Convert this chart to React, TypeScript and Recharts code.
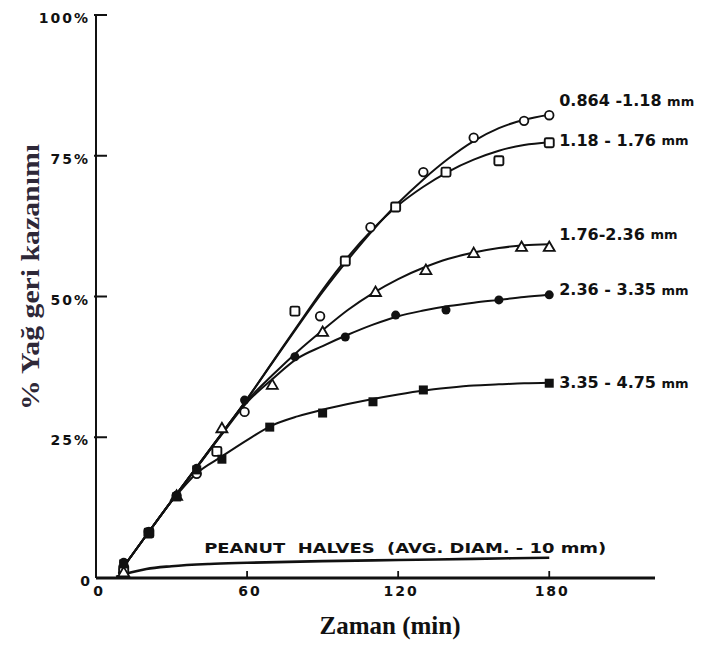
import React from "react";
import { ComposedChart, Line, Scatter, XAxis, YAxis, Label } from "recharts";

const xTicks = [0, 60, 120, 180];
const yTicks = [0, 25, 50, 75, 100];
const yTickText: Record<number, string> = { 0: "0", 25: "25%", 50: "50%", 75: "75%", 100: "100%" };

// fitted curves
const curveTimes = [9, 20, 30, 40, 50, 60, 70, 80, 90, 100, 110, 120, 130, 140, 150, 160, 170, 180];
const curveFine = [0.8, 7.6, 13.7, 19.7, 25.7, 31.8, 38.2, 44.6, 50.8, 56.5, 61.8, 66.6, 70.8, 74.5, 77.6, 79.9, 81.4, 82.3];
const curveSmall = [0.8, 7.6, 13.7, 19.7, 25.7, 31.8, 38.3, 44.8, 51.2, 57.0, 62.0, 66.2, 69.5, 72.2, 74.3, 75.9, 76.9, 77.4];
const curveMid = [0.8, 7.6, 13.7, 19.7, 25.7, 31.5, 36.0, 40.2, 44.0, 47.6, 50.6, 53.1, 55.1, 56.7, 57.8, 58.6, 59.1, 59.3];
const curveLarge = [0.8, 7.6, 13.7, 19.6, 25.5, 31.2, 35.3, 39.0, 41.2, 43.2, 45.0, 46.5, 47.5, 48.3, 48.9, 49.4, 49.9, 50.3];
const curveCoarse = [0.8, 7.6, 13.6, 18.6, 21.6, 24.5, 27.1, 28.7, 29.9, 30.9, 31.8, 32.6, 33.3, 33.8, 34.2, 34.4, 34.6, 34.7];

const peanutTimes = [8, 15, 20, 30, 45, 60, 90, 120, 150, 180];
const peanutValues = [0.2, 1.1, 1.6, 2.1, 2.5, 2.7, 3.0, 3.2, 3.4, 3.6];

// measured points
const circleTimes = [11, 21, 32, 40, 59, 89, 109, 130, 150, 170, 180];
const circleValues = [1.5, 8.2, 14.6, 18.5, 29.5, 46.5, 62.3, 72.1, 78.2, 81.2, 82.2];
const squareTimes = [11, 21, 48, 79, 99, 119, 139, 160, 180];
const squareValues = [1.5, 8.0, 22.5, 47.4, 56.3, 65.9, 72.1, 74.1, 77.3];
const triangleTimes = [11, 32, 50, 70, 90, 111, 131, 150, 169, 180];
const triangleValues = [1.0, 14.6, 26.6, 34.3, 43.7, 50.8, 54.7, 57.7, 58.8, 58.8];
const dotTimes = [11, 21, 32, 40, 59, 79, 99, 119, 139, 160, 180];
const dotValues = [2.8, 8.2, 14.6, 19.5, 31.6, 39.3, 42.8, 46.7, 47.6, 49.4, 50.3];
const blockTimes = [11, 21, 32, 40, 50, 69, 90, 110, 130, 180];
const blockValues = [2.5, 8.0, 14.4, 19.2, 21.1, 26.8, 29.3, 31.3, 33.4, 34.6];

const labels = ["0.864 -1.18", "1.18 - 1.76", "1.76-2.36", "2.36 - 3.35", "3.35 - 4.75"];
const peanutLabel = "PEANUT  HALVES  (AVG. DIAM. - 10 mm)";

const zip = (ts: number[], vs: number[]) => ts.map((t, i) => ({ t, v: vs[i] }));

const INK = "#111";

const openCircle = (p: any) => (
  <circle cx={p.cx} cy={p.cy} r={4.3} fill="#fff" stroke={INK} strokeWidth={1.8} />
);
const openSquare = (p: any) => (
  <rect x={p.cx - 4.5} y={p.cy - 4.5} width={9} height={9} rx={1.5} fill="#fff" stroke={INK} strokeWidth={1.9} />
);
const openTriangle = (p: any) => (
  <polygon
    points={`${p.cx},${p.cy - 5.5} ${p.cx + 5.5},${p.cy + 4} ${p.cx - 5.5},${p.cy + 4}`}
    fill="#fff"
    stroke={INK}
    strokeWidth={1.8}
  />
);
const filledCircle = (p: any) => <circle cx={p.cx} cy={p.cy} r={4.5} fill={INK} />;
const filledSquare = (p: any) => (
  <rect x={p.cx - 4.5} y={p.cy - 4.5} width={9} height={9} fill={INK} />
);

const endLabel = (text: string, last: number, dy: number) => (p: any) => {
  if (p.index !== last) return null;
  return (
    <text
      x={p.x + 10}
      y={p.y + dy}
      dominantBaseline="central"
      fontFamily="DejaVu Sans"
      fontWeight={700}
      fontSize={16}
      fill={INK}
      style={{ whiteSpace: "pre" }}
    >
      {text + " "}
      <tspan fontSize={13}>mm</tspan>
    </text>
  );
};

const peanutText = (p: any) => {
  if (p.index !== peanutTimes.length - 1) return null;
  return (
    <text
      x={p.x - 345}
      y={p.y - 5}
      fontFamily="DejaVu Sans"
      fontWeight={700}
      fontSize={14}
      fill={INK}
      textLength={402}
      lengthAdjust="spacingAndGlyphs"
      style={{ whiteSpace: "pre" }}
    >
      {peanutLabel}
    </text>
  );
};

const YTick = (p: any) => {
  const v = p.payload.value;
  return (
    <g>
      {v > 0 && <line x1={p.x - 2} x2={p.x + 11} y1={p.y} y2={p.y} stroke={INK} strokeWidth={2} />}
      <text
        x={p.x - 6}
        y={p.y + 3}
        textAnchor="end"
        dominantBaseline="central"
        fontFamily="DejaVu Sans"
        fontWeight={700}
        fontSize={14}
        letterSpacing={v === 0 ? 0 : 2}
        fill={INK}
      >
        {yTickText[v]}
      </text>
    </g>
  );
};

const XTick = (p: any) => {
  const v = p.payload.value;
  return (
    <g>
      {v > 0 && <line x1={p.x} x2={p.x} y1={p.y} y2={p.y - 7} stroke={INK} strokeWidth={1.8} />}
      <text
        x={p.x + 3}
        y={p.y + 13}
        textAnchor="middle"
        dominantBaseline="central"
        fontFamily="DejaVu Sans"
        fontWeight={700}
        fontSize={14}
        letterSpacing={2}
        fill={INK}
      >
        {v}
      </text>
    </g>
  );
};

const series = [
  { curve: curveFine, times: circleTimes, values: circleValues, shape: openCircle, dy: -14 },
  { curve: curveSmall, times: squareTimes, values: squareValues, shape: openSquare, dy: -2 },
  { curve: curveMid, times: triangleTimes, values: triangleValues, shape: openTriangle, dy: -10 },
  { curve: curveLarge, times: dotTimes, values: dotValues, shape: filledCircle, dy: -5 },
  { curve: curveCoarse, times: blockTimes, values: blockValues, shape: filledSquare, dy: 0 },
];

export default function App() {
  return (
    <div style={{ position: "absolute", left: 0, top: 0, width: 709, height: 646, background: "#fff" }}>
      <ComposedChart width={709} height={646} margin={{ top: 15, right: 54, bottom: 0, left: 36 }}>
        <XAxis
          type="number"
          dataKey="t"
          domain={[0, 222]}
          ticks={xTicks}
          allowDataOverflow
          height={68}
          tickSize={0}
          tickMargin={0}
          tickLine={false}
          axisLine={{ stroke: INK, strokeWidth: 3 }}
          tick={<XTick />}
        >
          <Label
            content={() => (
              <text
                x={390}
                y={634}
                textAnchor="middle"
                fontFamily="Liberation Serif"
                fontWeight={700}
                fontSize={25}
                fill={INK}
              >
                Zaman (min)
              </text>
            )}
          />
        </XAxis>
        <YAxis
          type="number"
          dataKey="v"
          domain={[0, 100]}
          ticks={yTicks}
          width={60}
          tickSize={0}
          tickMargin={0}
          tickLine={false}
          axisLine={{ stroke: INK, strokeWidth: 2 }}
          tick={<YTick />}
        >
          <Label
            content={() => (
              <text
                x={39}
                y={277}
                transform="rotate(-90 39 277)"
                textAnchor="middle"
                fontFamily="Liberation Serif"
                fontWeight={700}
                fontSize={26}
                textLength={266}
                lengthAdjust="spacingAndGlyphs"
                fill="#2e2838"
              >
                % Yağ geri kazanımı
              </text>
            )}
          />
        </YAxis>

        <Line
          data={zip(peanutTimes, peanutValues)}
          dataKey="v"
          type="monotone"
          stroke={INK}
          strokeWidth={2.6}
          dot={false}
          isAnimationActive={false}
          label={peanutText}
        />

        {series.map((s, i) => (
          <Line
            key={`c${i}`}
            data={zip(curveTimes, s.curve)}
            dataKey="v"
            type="monotone"
            stroke={INK}
            strokeWidth={2}
            dot={false}
            isAnimationActive={false}
            label={endLabel(labels[i], curveTimes.length - 1, s.dy)}
          />
        ))}

        {series.map((s, i) => (
          <Scatter
            key={`p${i}`}
            data={zip(s.times, s.values)}
            shape={s.shape}
            isAnimationActive={false}
          />
        ))}
      </ComposedChart>
    </div>
  );
}
